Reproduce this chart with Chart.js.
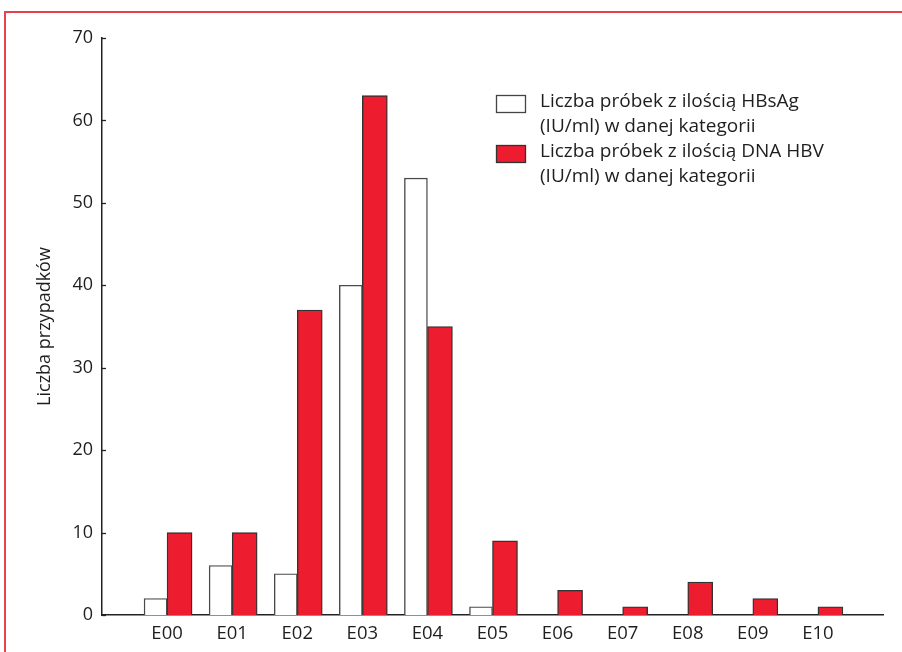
<!DOCTYPE html>
<html>
<head>
<meta charset="utf-8">
<script src="https://cdn.jsdelivr.net/npm/chart.js@4/dist/chart.umd.min.js"></script>
<style>
  html, body { margin: 0; padding: 0; background: #ffffff; }
  #wrap { position: relative; width: 902px; height: 652px; overflow: hidden; }
  #frame { position: absolute; left: 4px; top: 11px; width: 1000px; height: 1000px;
           border-top: 2px solid #e8404f; border-left: 2px solid #e8404f; box-sizing: border-box; }
  canvas { position: absolute; left: 0; top: 0; }
</style>
</head>
<body>
<div id="wrap">
  <div id="frame"></div>
  <canvas id="c" width="902" height="652"></canvas>
</div>
<script>
const categories = ['E00', 'E01', 'E02', 'E03', 'E04', 'E05', 'E06', 'E07', 'E08', 'E09', 'E10'];
const hbsagCounts = [2, 6, 5, 40, 53, 1, 0, 0, 0, 0, 0];
const dnaCounts = [10, 10, 37, 63, 35, 9, 3, 1, 4, 2, 1];
const yTicks = [0, 10, 20, 30, 40, 50, 60, 70];
const legendHbsag = ['Liczba próbek z ilością HBsAg', '(IU/ml) w danej kategorii'];
const legendDna = ['Liczba próbek z ilością DNA HBV', '(IU/ml) w danej kategorii'];
const yTitle = 'Liczba przypadków';

const FONT = "'Open Sans', 'Noto Sans', sans-serif";
const RED = '#ed1c2e';

const toPoints = arr => arr.map((v, i) => ({ x: i, y: v }));

const innerTicks = {
  id: 'innerTicks',
  afterDatasetsDraw(chart) {
    const y = chart.scales.y;
    const ctx = chart.ctx;
    ctx.save();
    ctx.strokeStyle = '#222';
    ctx.lineWidth = 1.3;
    yTicks.forEach(v => {
      const py = Math.round(y.getPixelForValue(v)) + 0.5;
      ctx.beginPath();
      ctx.moveTo(y.right, py);
      ctx.lineTo(y.right + 4, py);
      ctx.stroke();
    });
    ctx.restore();
  }
};

const customLegend = {
  id: 'customLegend',
  afterDraw(chart) {
    const ctx = chart.ctx;
    ctx.save();
    const items = [
      { lines: legendHbsag, fill: '#ffffff', stroke: '#444' },
      { lines: legendDna, fill: RED, stroke: '#333' }
    ];
    const boxX = 496, textX = 540, lineH = 25;
    let base = 106.5;
    ctx.font = '19px ' + FONT;
    ctx.textBaseline = 'alphabetic';
    ctx.textAlign = 'left';
    items.forEach(it => {
      ctx.fillStyle = it.fill;
      ctx.strokeStyle = it.stroke;
      ctx.lineWidth = 1.3;
      ctx.fillRect(boxX, base - 11.5, 29, 17);
      ctx.strokeRect(boxX + 0.5, base - 11.5 + 0.5, 29, 17);
      ctx.fillStyle = '#1e1e1e';
      it.lines.forEach((ln, k) => {
        ctx.fillText(ln, textX, base + k * lineH);
      });
      base += 2 * lineH;
    });
    ctx.restore();
  }
};

new Chart(document.getElementById('c'), {
  type: 'bar',
  data: {
    datasets: [
      {
        label: legendHbsag.join(' '),
        data: toPoints(hbsagCounts),
        backgroundColor: '#ffffff',
        borderColor: '#4a4a4a',
        borderWidth: 1.4,
        barThickness: 23
      },
      {
        label: legendDna.join(' '),
        data: toPoints(dnaCounts),
        backgroundColor: RED,
        borderColor: '#333333',
        borderWidth: 1.4,
        barThickness: 25
      }
    ]
  },
  options: {
    responsive: false,
    animation: false,
    layout: { padding: { left: 0, right: 19, top: 38, bottom: 0 } },
    plugins: { legend: { display: false }, tooltip: { enabled: false } },
    scales: {
      x: {
        type: 'linear',
        min: -1,
        max: 11,
        offset: false,
        grid: { display: false, drawTicks: false, offset: false },
        border: { display: true, color: '#222', width: 1.5 },
        afterFit(scale) { scale.height = 37; },
        ticks: {
          stepSize: 1,
          includeBounds: false,
          autoSkip: false,
          maxRotation: 0,
          padding: 8,
          color: '#1e1e1e',
          font: { family: FONT, size: 18.5 },
          callback: v => (Number.isInteger(v) && v >= 0 && v < categories.length) ? categories[v] : ''
        }
      },
      y: {
        min: 0,
        max: 70,
        afterFit(scale) { scale.width = 102; },
        grid: { display: false, drawTicks: false },
        border: { display: true, color: '#222', width: 1.5 },
        afterBuildTicks(scale) { scale.ticks = yTicks.map(v => ({ value: v })); },
        ticks: {
          padding: 9,
          color: '#1e1e1e',
          font: { family: FONT, size: 18 }
        },
        title: {
          display: true,
          text: yTitle,
          color: '#1e1e1e',
          padding: { top: 34, bottom: 0 },
          font: { family: FONT, size: 18 }
        }
      }
    }
  },
  plugins: [innerTicks, customLegend]
});
</script>
</body>
</html>
